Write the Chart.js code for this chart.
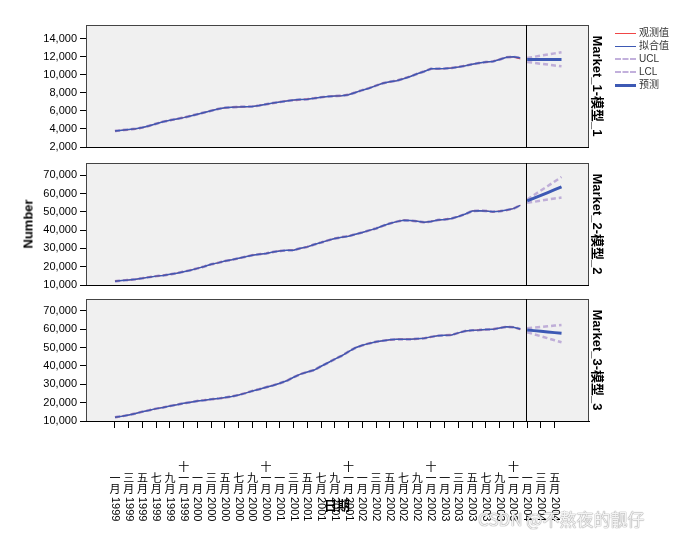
<!DOCTYPE html>
<html>
<head>
<meta charset="utf-8">
<script src="https://cdn.jsdelivr.net/npm/chart.js@4.4.0/dist/chart.umd.min.js"></script>
<style>
  body { margin: 0; background: #fff; font-family: "Liberation Sans", "Noto Sans CJK SC", sans-serif; }
  #wrap { position: relative; width: 685px; height: 540px; overflow: hidden; }
  .panel { position: absolute; left: 0; width: 685px; }
  .txt { position: absolute; white-space: nowrap; font-weight: bold; font-size: 13px; color: #000; }
  .down { transform: translate(-50%, -50%) rotate(90deg); }
  .up { transform: translate(-50%, -50%) rotate(-90deg); }
  #legend { position: absolute; left: 615px; top: 26px; font-size: 10px; color: #333; }
  #legend div { height: 13px; line-height: 13px; white-space: nowrap; }
  #legend span.ln { display: inline-block; width: 21px; vertical-align: middle; margin-right: 3px; }
  #mark { position: absolute; left: 478px; top: 506px; font-size: 17px; color: rgba(255,255,255,0.9);
          text-shadow: 0 0 1px #888, 0 0 1px #888; font-family: "Noto Sans CJK SC", sans-serif; }
</style>
</head>
<body>
<div id="wrap">
  <div class="panel" style="top:0;height:162px"><canvas id="c1"></canvas></div>
  <div class="panel" style="top:148px;height:152px"><canvas id="c2"></canvas></div>
  <div class="panel" style="top:284px;height:256px"><canvas id="c3"></canvas></div>

  <div class="txt up" style="left:28px;top:224px">Number</div>
  <div class="txt" style="left:324px;top:495px">日期</div>
  <div class="txt down" style="left:598px;top:86px">Market_1-模型_1</div>
  <div class="txt down" style="left:598px;top:224px">Market_2-模型_2</div>
  <div class="txt down" style="left:598px;top:360px">Market_3-模型_3</div>

  <div id="legend">
    <div><span class="ln" style="height:1px;background:#f04646"></span>观测值</div>
    <div><span class="ln" style="height:1px;background:#3d59b4"></span>拟合值</div>
    <div><span class="ln" style="border-top:2px dashed #c2b0dc"></span>UCL</div>
    <div><span class="ln" style="border-top:2px dashed #c2b0dc"></span>LCL</div>
    <div><span class="ln" style="height:3px;background:#3d59b4"></span>预测</div>
  </div>
  <div id="mark">CSDN @不熬夜的靓仔</div>
</div>

<script>
// Time axis: monthly, Jan 1999 .. Dec 2003 observed, Jan .. Jun 2004 forecast
const months = ['一月', '二月', '三月', '四月', '五月', '六月', '七月', '八月', '九月', '十月', '十一月', '十二月'];
const firstYear = 1999;
const forecastStart = 60;
const divider = 59.8;
const xTickValues = [0, 2, 4, 6, 8, 10, 12, 14, 16, 18, 20, 22, 24, 26, 28, 30, 32,
                     34, 36, 38, 40, 42, 44, 46, 48, 50, 52, 54, 56, 58, 60, 62, 64];

// Market_1
const observed1 = [3780, 3850, 3920, 4000, 4150, 4330, 4580, 4810, 4950, 5100,
                   5260, 5450, 5620, 5810, 6020, 6220, 6330, 6400, 6430, 6450,
                   6480, 6600, 6730, 6850, 6990, 7110, 7180, 7240, 7300, 7400,
                   7500, 7590, 7640, 7670, 7800, 8040, 8280, 8520, 8800, 9070,
                   9200, 9330, 9570, 9820, 10100, 10370, 10670, 10660, 10670, 10760,
                   10850, 11000, 11150, 11300, 11390, 11480, 11700, 11930, 11960, 11740];
const fitted1 = [3760, 3860, 3930, 4010, 4160, 4350, 4570, 4800, 4960, 5110,
                 5250, 5440, 5630, 5820, 6010, 6210, 6340, 6400, 6440, 6460,
                 6490, 6590, 6740, 6860, 6980, 7100, 7190, 7250, 7290, 7390,
                 7510, 7580, 7650, 7680, 7790, 8030, 8290, 8510, 8790, 9060,
                 9210, 9340, 9560, 9810, 10110, 10360, 10650, 10670, 10680, 10750,
                 10860, 10990, 11160, 11290, 11400, 11470, 11690, 11920, 11990, 11850];
const forecast1 = [11670, 11670, 11670, 11670, 11670, 11670];
const ucl1 = [11850, 11980, 12110, 12230, 12360, 12480];
const lcl1 = [11410, 11310, 11210, 11120, 11020, 10930];
const yTicks1 = [2000, 4000, 6000, 8000, 10000, 12000, 14000];

// Market_2
const observed2 = [12170, 12450, 12750, 13100, 13700, 14350, 14800, 15300, 15800, 16500,
                   17250, 18150, 19080, 20150, 21260, 22150, 23080, 23800, 24540, 25450,
                   26360, 26800, 27270, 28000, 28700, 28900, 29080, 30000, 30900, 32100,
                   33280, 34350, 35460, 36100, 36720, 37700, 38730, 39800, 40920, 42300,
                   43650, 44600, 45450, 45200, 44900, 44200, 44800, 45450, 45900, 46370,
                   47500, 48720, 50530, 50600, 50530, 49980, 50400, 50900, 51830, 53630];
const fitted2 = [12100, 12480, 12800, 13150, 13650, 14300, 14850, 15250, 15850, 16450,
                 17300, 18100, 19100, 20100, 21300, 22100, 23100, 23750, 24600, 25400,
                 26300, 26850, 27250, 28050, 28650, 28950, 29050, 30050, 30850, 32150,
                 33200, 34400, 35400, 36150, 36700, 37750, 38700, 39850, 40900, 42350,
                 43600, 44650, 45400, 45250, 44850, 44250, 44750, 45500, 45850, 46400,
                 47450, 48800, 50450, 50650, 50500, 50050, 50350, 50950, 51750, 53500];
const forecast2 = [55980, 57500, 59030, 60560, 62090, 63620];
const ucl2 = [56730, 59200, 61700, 64100, 66600, 69080];
const lcl2 = [54900, 55500, 56100, 56700, 57300, 57830];
const yTicks2 = [10000, 20000, 30000, 40000, 50000, 60000, 70000];

// Market_3
const observed3 = [12000, 12600, 13260, 14150, 15070, 15900, 16710, 17450, 18170, 18900,
                   19630, 20250, 20900, 21350, 21810, 22250, 22700, 23400, 24170, 25250,
                   26360, 27350, 28370, 29450, 30550, 31980, 33800, 35630, 36700, 37810,
                   39800, 41800, 43700, 45620, 47800, 49980, 51200, 52380, 53100, 53800,
                   54200, 54560, 54560, 54560, 54800, 55100, 55800, 56530, 56700, 56900,
                   58000, 59090, 59350, 59630, 59800, 60000, 60700, 61440, 61100, 60000];
const fitted3 = [12050, 12550, 13300, 14100, 15100, 15850, 16750, 17400, 18200, 18850,
                 19650, 20200, 20950, 21300, 21850, 22200, 22750, 23350, 24200, 25200,
                 26400, 27300, 28400, 29400, 30600, 31900, 33850, 35550, 36750, 37750,
                 39850, 41750, 43750, 45550, 47850, 49900, 51250, 52300, 53150, 53750,
                 54250, 54500, 54600, 54500, 54850, 55050, 55850, 56450, 56750, 56850,
                 58050, 59000, 59400, 59550, 59850, 59950, 60750, 61350, 61150, 60100];
const forecast3 = [59630, 59260, 58900, 58530, 58170, 57800];
const ucl3 = [60550, 60900, 61250, 61600, 62000, 62360];
const lcl3 = [58380, 57300, 56200, 55100, 54000, 52920];
const yTicks3 = [10000, 20000, 30000, 40000, 50000, 60000, 70000];

const RED = '#f04646';
const BLUE = '#3d59b4';
const BAND = 'rgba(170, 145, 205, 0.7)';
const tickFont = { family: '"Liberation Sans", Arial, sans-serif', size: 11 };

function pts(values, start) {
    return values.map((v, i) => ({ x: start + i, y: v }));
}

// Panel background, frame and the forecast divider
const panelDeco = {
    id: 'panelDeco',
    beforeDatasetsDraw(chart) {
        const { ctx, chartArea: a } = chart;
        ctx.save();
        ctx.fillStyle = '#f0f0f0';
        ctx.fillRect(a.left, a.top, a.right - a.left, a.bottom - a.top);
        ctx.restore();
    },
    afterDraw(chart) {
        const { ctx, chartArea: a } = chart;
        ctx.save();
        ctx.strokeStyle = '#444';
        ctx.lineWidth = 1;
        ctx.strokeRect(a.left + 0.5, a.top + 0.5, a.right - a.left - 1, a.bottom - a.top);
        ctx.strokeStyle = '#000';
        ctx.beginPath();
        ctx.moveTo(a.left, a.bottom + 0.5);
        ctx.lineTo(a.right, a.bottom + 0.5);
        const dx = Math.round(chart.scales.x.getPixelForValue(divider)) + 0.5;
        ctx.moveTo(dx, a.top);
        ctx.lineTo(dx, a.bottom);
        ctx.stroke();
        ctx.restore();
    }
};

// Vertical Chinese month / year tick labels under the bottom panel
const monthLabels = {
    id: 'monthLabels',
    afterDraw(chart) {
        const ctx = chart.ctx, xs = chart.scales.x;
        const base = chart.chartArea.bottom;
        ctx.save();
        ctx.fillStyle = '#000';
        ctx.textAlign = 'center';
        ctx.textBaseline = 'middle';
        xTickValues.forEach(v => {
            const px = xs.getPixelForValue(v);
            const chars = months[v % 12].split('').reverse();
            ctx.font = '11px "Noto Sans CJK SC", sans-serif';
            chars.forEach((c, k) => ctx.fillText(c, px, base + 68 - k * 11));
            const year = String(firstYear + Math.floor(v / 12));
            ctx.save();
            ctx.translate(px, base + 76);
            ctx.rotate(Math.PI / 2);
            ctx.textAlign = 'left';
            ctx.font = '11px "Liberation Sans", sans-serif';
            ctx.fillText(year, 0, 0);
            ctx.restore();
        });
        ctx.restore();
    }
};

function makePanel(id, obs, fit, fc, ucl, lcl, yMin, yMax, yTicks, padTop, bottom) {
    const line = (data, color, width, dash) => ({
        data, borderColor: color, borderWidth: width, borderDash: dash || [],
        pointRadius: 0, tension: 0, fill: false
    });
    return new Chart(document.getElementById(id), {
        type: 'line',
        data: {
            datasets: [
                line(pts(fit, 0), BLUE, 1.5),
                line(pts(fc, forecastStart), BLUE, 3),
                line(pts(obs, 0), RED, 1),
                line(pts(ucl, forecastStart), BAND, 2.5, [5, 3]),
                line(pts(lcl, forecastStart), BAND, 2.5, [5, 3]),
                line(pts(fit, 0), BAND, 2.5, [5, 3]),
                line(pts(fit, 0), BAND, 2.5, [5, 3])
            ]
        },
        options: {
            responsive: true,
            maintainAspectRatio: false,
            animation: false,
            layout: { padding: { top: padTop, right: 96, bottom: bottom ? 0 : 15, left: 0 } },
            plugins: { legend: { display: false }, tooltip: { enabled: false } },
            scales: {
                x: {
                    type: 'linear',
                    min: -4.22,
                    max: 69.0,
                    display: bottom,
                    afterBuildTicks: s => { s.ticks = xTickValues.map(v => ({ value: v })); },
                    afterFit: s => { if (bottom) s.height = 119; },
                    grid: { drawOnChartArea: false, drawTicks: true, tickLength: 7, color: '#000' },
                    border: { display: true, color: '#000' },
                    ticks: { display: false }
                },
                y: {
                    min: yMin,
                    max: yMax,
                    afterBuildTicks: s => { s.ticks = yTicks.map(v => ({ value: v })); },
                    afterFit: s => { s.width = 86; },
                    grid: { drawOnChartArea: false, drawTicks: true, tickLength: 6, color: '#000' },
                    border: { display: true, color: '#000' },
                    ticks: {
                        color: '#000',
                        font: tickFont,
                        padding: 3,
                        callback: v => v.toLocaleString('en-US')
                    }
                }
            }
        },
        plugins: bottom ? [panelDeco, monthLabels] : [panelDeco]
    });
}

makePanel('c1', observed1, fitted1, forecast1, ucl1, lcl1, 2000, 15500, yTicks1, 25, false);
makePanel('c2', observed2, fitted2, forecast2, ucl2, lcl2, 10000, 76700, yTicks2, 15, false);
makePanel('c3', observed3, fitted3, forecast3, ucl3, lcl3, 10000, 76500, yTicks3, 15, true);
</script>
</body>
</html>
